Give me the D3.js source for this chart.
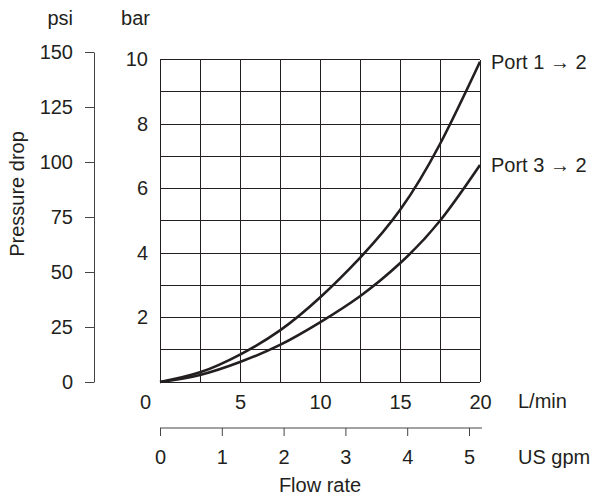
<!DOCTYPE html>
<html>
<head>
<meta charset="utf-8">
<script src="https://cdn.jsdelivr.net/npm/d3@7"></script>
<style>
  body { margin: 0; background: #fff; }
  svg text { font-family: "Liberation Sans", Arial, sans-serif; font-size: 20px; fill: #231f20; }
</style>
</head>
<body>
<svg id="chart" width="594" height="497"></svg>
<script>
// flow in L/min, pressure drop in bar
const flowLpm = [0, 2.5, 5, 7.5, 10, 12.5, 15, 17.5, 20]
const port12Bar = [0, 0.3, 0.85, 1.6, 2.62, 3.85, 5.33, 7.38, 9.93]
const port32Bar = [0, 0.22, 0.62, 1.15, 1.85, 2.66, 3.68, 5.0, 6.73]
const seriesNames = ['Port 1 \u2192 2', 'Port 3 \u2192 2']

const barTicks = [2, 4, 6, 8, 10]
const psiTicks = [0, 25, 50, 75, 100, 125, 150]
const lpmTicks = [0, 5, 10, 15, 20]
const gpmTicks = [0, 1, 2, 3, 4, 5]
const gridLpm = d3.range(0, 20.01, 2.5)
const gridBar = d3.range(0, 10.01, 1)

const ink = '#231f20'
const svg = d3.select('#chart')

const x = d3.scaleLinear().domain([0, 20]).range([160, 480])
const y = d3.scaleLinear().domain([0, 10]).range([382, 59.5])
const psi = d3.scaleLinear().domain([0, 150]).range([382, 52])
const gpm = d3.scaleLinear().domain([0, 5]).range([160, 469])

// grid
const grid = svg.append('g').attr('shape-rendering', 'crispEdges')
    .attr('stroke', ink).attr('stroke-width', 1)
grid.selectAll('line.v').data(gridLpm).enter().append('line')
    .attr('x1', d => x(d)).attr('x2', d => x(d))
    .attr('y1', y(0)).attr('y2', y(10))
grid.selectAll('line.h').data(gridBar).enter().append('line')
    .attr('x1', x(0)).attr('x2', x(20))
    .attr('y1', d => y(d)).attr('y2', d => y(d))

// psi axis
const psiAxis = svg.append('g').attr('transform', 'translate(94,0)')
    .call(d3.axisLeft(psi).tickValues(psiTicks).tickSize(9).tickSizeOuter(0).tickPadding(12))
psiAxis.selectAll('path, line').attr('stroke', '#444')
psiAxis.selectAll('text').attr('font-size', null).attr('font-family', null)

// bar labels
const barAxis = svg.append('g').attr('transform', 'translate(160,0)')
    .call(d3.axisLeft(y).tickValues(barTicks).tickSize(0).tickPadding(12))
barAxis.select('.domain').remove()
barAxis.selectAll('text').attr('font-size', null).attr('font-family', null)

// L/min labels
const lpmAxis = svg.append('g').attr('transform', 'translate(0,382)')
    .call(d3.axisBottom(x).tickValues(lpmTicks).tickSize(0).tickPadding(13))
lpmAxis.select('.domain').remove()
lpmAxis.selectAll('text').attr('font-size', null).attr('font-family', null)
    .attr('dx', d => d === 0 ? -15 : 0)

// US gpm axis
const gpmAxis = svg.append('g').attr('transform', 'translate(0,428)')
    .call(d3.axisBottom(gpm).tickValues(gpmTicks).tickFormat(d3.format('d'))
        .tickSize(8).tickSizeOuter(0).tickPadding(14))
gpmAxis.select('.domain').remove()
gpmAxis.append('line')
    .attr('x1', gpm(0)).attr('x2', x(20) + 2)
    .attr('y1', 0).attr('y2', 0)
gpmAxis.selectAll('line').attr('stroke', '#444')
gpmAxis.selectAll('text').attr('font-size', null).attr('font-family', null)

// curves
const line = d3.line()
    .x((d, i) => x(flowLpm[i]))
    .y(d => y(d))
    .curve(d3.curveNatural)

svg.selectAll('path.curve').data([port12Bar, port32Bar]).enter().append('path')
    .attr('class', 'curve')
    .attr('d', line)
    .attr('fill', 'none')
    .attr('stroke', ink)
    .attr('stroke-width', 2.6)

// series labels at the line ends
svg.selectAll('text.series').data([port12Bar, port32Bar]).enter().append('text')
    .attr('class', 'series')
    .attr('x', x(20) + 11)
    .attr('y', d => y(d[d.length - 1]))
    .attr('dy', '0.35em')
    .text((d, i) => seriesNames[i])

// unit and axis titles
svg.append('text').attr('x', 73).attr('y', 25).attr('text-anchor', 'end').text('psi')
svg.append('text').attr('x', 150).attr('y', 25).attr('text-anchor', 'end').text('bar')
svg.append('text').attr('x', 518).attr('y', 401).attr('dy', '0.35em').text('L/min')
svg.append('text').attr('x', 518).attr('y', 457).attr('dy', '0.35em').text('US gpm')
svg.append('text').attr('x', 320).attr('y', 492).attr('text-anchor', 'middle').text('Flow rate')
svg.append('text')
    .attr('transform', 'translate(24,194) rotate(-90)')
    .attr('text-anchor', 'middle')
    .text('Pressure drop')
</script>
</body>
</html>
